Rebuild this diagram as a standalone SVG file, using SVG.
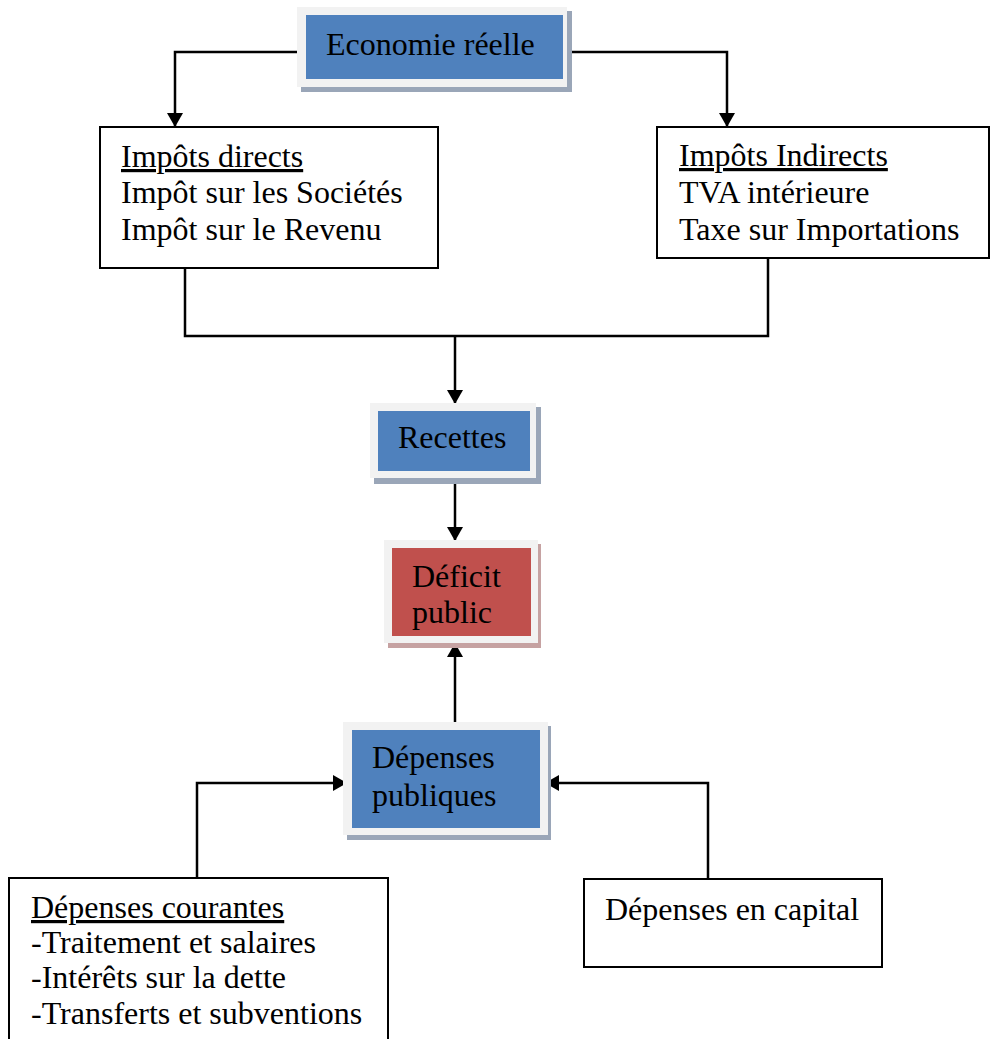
<svg xmlns="http://www.w3.org/2000/svg" width="991" height="1039" viewBox="0 0 991 1039">
  <style>
    text { font-family: "Liberation Serif", "Times New Roman", serif; font-size: 32px; fill: #000; }
    .u { text-decoration: underline; }
    .box { fill: #fff; stroke: #000; stroke-width: 2; }
    .frame { fill: #f2f2f2; }
    .shadow-b { fill: #9aa6b8; }
    .shadow-r { fill: #c6a2a2; }
    .blue { fill: #4f81bd; }
    .red { fill: #c0504d; }
    .conn { fill: none; stroke: #000; stroke-width: 2.5; }
  </style>
  <defs>
    <marker id="arrow" viewBox="0 0 14 16" refX="14" refY="8" markerWidth="14" markerHeight="16" markerUnits="userSpaceOnUse" orient="auto">
      <path d="M0,0 L14,8 L0,16 z" fill="#000"/>
    </marker>
  </defs>
  <rect width="991" height="1039" fill="#fff"/>

  <g id="connectors">
    <path class="conn" d="M297,52 H175 V127" marker-end="url(#arrow)"/>
    <path class="conn" d="M570,52 H727 V127" marker-end="url(#arrow)"/>
    <path class="conn" d="M185,269 V336 H768 V258"/>
    <path class="conn" d="M455,336 V404" marker-end="url(#arrow)"/>
    <path class="conn" d="M455,478 V541" marker-end="url(#arrow)"/>
    <path class="conn" d="M455,722 V643" marker-end="url(#arrow)"/>
    <path class="conn" d="M197,878 V783 H347" marker-end="url(#arrow)"/>
    <path class="conn" d="M708,880 V783 H545" marker-end="url(#arrow)"/>
  </g>

  <g id="economie-reelle">
    <rect class="shadow-b" x="301" y="11" width="271" height="81"/>
    <rect class="frame" x="297" y="7" width="270" height="80"/>
    <rect class="blue" x="306" y="15" width="257" height="64"/>
    <text x="326" y="55">Economie réelle</text>
  </g>

  <g id="impots-directs">
    <rect class="box" x="100" y="127" width="338" height="141"/>
    <text x="121" y="167" class="u">Impôts directs</text>
    <text x="121" y="203">Impôt sur les Sociétés</text>
    <text x="121" y="240">Impôt sur le Revenu</text>
  </g>

  <g id="impots-indirects">
    <rect class="box" x="657" y="127" width="332" height="131"/>
    <text x="679" y="166" class="u">Impôts Indirects</text>
    <text x="679" y="203">TVA intérieure</text>
    <text x="679" y="240">Taxe sur Importations</text>
  </g>

  <g id="recettes">
    <rect class="shadow-b" x="374" y="407" width="167" height="77"/>
    <rect class="frame" x="370" y="403" width="166" height="75"/>
    <rect class="blue" x="378" y="411" width="152" height="60"/>
    <text x="398" y="448">Recettes</text>
  </g>

  <g id="deficit-public">
    <rect class="shadow-r" x="388" y="544" width="153" height="104"/>
    <rect class="frame" x="384" y="540" width="154" height="103"/>
    <rect class="red" x="392" y="548" width="139" height="88"/>
    <text x="412" y="587">Déficit</text>
    <text x="412" y="623">public</text>
  </g>

  <g id="depenses-publiques">
    <rect class="shadow-b" x="347" y="726" width="204" height="114"/>
    <rect class="frame" x="343" y="722" width="205" height="113"/>
    <rect class="blue" x="352" y="730" width="188" height="98"/>
    <text x="372" y="768">Dépenses</text>
    <text x="372" y="806">publiques</text>
  </g>

  <g id="depenses-courantes">
    <rect class="box" x="9" y="878" width="379" height="170"/>
    <text x="31" y="918" class="u">Dépenses courantes</text>
    <text x="31" y="953">-Traitement et salaires</text>
    <text x="31" y="988">-Intérêts sur la dette</text>
    <text x="31" y="1024">-Transferts et subventions</text>
  </g>

  <g id="depenses-capital">
    <rect class="box" x="584" y="879" width="298" height="88"/>
    <text x="605" y="920">Dépenses en capital</text>
  </g>
</svg>
